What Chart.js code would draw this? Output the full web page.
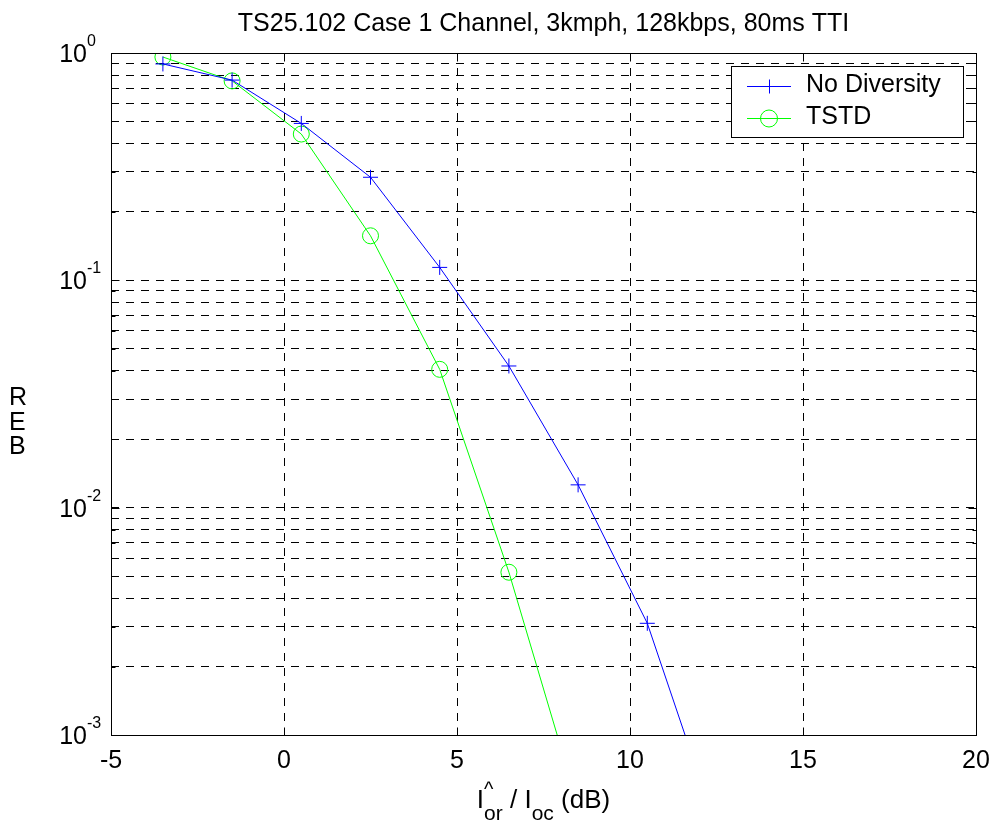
<!DOCTYPE html>
<html>
<head>
<meta charset="utf-8">
<script src="https://cdn.jsdelivr.net/npm/chart.js@4.4.1/dist/chart.umd.min.js"></script>
<style>
  html, body { margin: 0; padding: 0; background: #fff; }
  #wrap { width: 996px; height: 825px; }
</style>
</head>
<body>
<div id="wrap"><canvas id="c" width="996" height="825"></canvas></div>
<script>
// ---- data ----
const chartTitle = 'TS25.102 Case 1 Channel, 3kmph, 128kbps, 80ms TTI';
const seriesNames = ['No Diversity', 'TSTD'];
const noDivX = [-3.5, -1.5, 0.5, 2.5, 4.5, 6.5, 8.5, 10.5, 12.5];
const noDivY = [0.895, 0.76, 0.49, 0.284, 0.114, 0.042, 0.0126, 0.0031, 0.00039];
const tstdX  = [-3.5, -1.5, 0.5, 2.5, 4.5, 6.5, 8.5];
const tstdY  = [0.96, 0.754, 0.44, 0.157, 0.0406, 0.0052, 0.00049];
const xTickValues = [-5, 0, 5, 10, 15, 20];
const xTickLabels = ['-5', '0', '5', '10', '15', '20'];
const yDecadeExps = [0, -1, -2, -3];
const yMantissas = [1, 2, 3, 4, 5, 6, 7, 8, 9];
const yLabelLetters = ['R', 'E', 'B'];

const FONT = "'Liberation Sans', Arial, Helvetica, sans-serif";

const yGridValues = [];
yDecadeExps.forEach(e => {
  yMantissas.forEach(m => {
    const v = m * Math.pow(10, e);
    if (v <= 1 + 1e-12 && v >= 1e-3 - 1e-15) yGridValues.push(v);
  });
});

const toPts = (xs, ys) => xs.map((x, i) => ({ x: x, y: ys[i] }));

const decor = {
  id: 'matlabDecor',
  afterDraw(chart) {
    const { ctx, chartArea: a, scales } = chart;
    const xs = scales.x, ys = scales.y;
    ctx.save();
    ctx.setLineDash([]);
    ctx.strokeStyle = '#000';
    ctx.fillStyle = '#000';
    ctx.lineWidth = 1;
    const L = Math.round(a.left) + 0.5, R = Math.round(a.right) + 0.5;
    const T = Math.round(a.top) + 0.5, B = Math.round(a.bottom) + 0.5;
    // frame
    ctx.strokeRect(L, T, R - L, B - T);
    // inward ticks
    ctx.beginPath();
    xTickValues.forEach(v => {
      const px = Math.round(xs.getPixelForValue(v)) + 0.5;
      ctx.moveTo(px, T); ctx.lineTo(px, T + 8);
      ctx.moveTo(px, B); ctx.lineTo(px, B - 8);
    });
    yGridValues.forEach(v => {
      const py = Math.round(ys.getPixelForValue(v)) + 0.5;
      const major = Math.abs(Math.log10(v) - Math.round(Math.log10(v))) < 1e-9;
      const len = major ? 8 : 4;
      ctx.moveTo(L, py); ctx.lineTo(L + len, py);
      ctx.moveTo(R, py); ctx.lineTo(R - len, py);
    });
    ctx.stroke();

    // x tick labels
    ctx.font = '25px ' + FONT;
    ctx.textAlign = 'center';
    ctx.textBaseline = 'alphabetic';
    xTickValues.forEach((v, i) => {
      ctx.fillText(xTickLabels[i], xs.getPixelForValue(v), 768);
    });

    // y tick labels 10^e
    yDecadeExps.forEach(e => {
      const py = ys.getPixelForValue(Math.pow(10, e));
      ctx.font = '25px ' + FONT;
      ctx.textAlign = 'right';
      ctx.fillText('10', 87, py + 9);
      ctx.font = '16px ' + FONT;
      ctx.textAlign = 'left';
      ctx.fillText(String(e), 87, py - 7);
    });

    // title
    ctx.font = '25px ' + FONT;
    ctx.textAlign = 'center';
    ctx.fillText(chartTitle, (a.left + a.right) / 2, 31);

    // y label (stacked letters)
    ctx.textAlign = 'left';
    ctx.font = '25px ' + FONT;
    const yl = [405, 430, 454];
    yLabelLetters.forEach((ch, i) => ctx.fillText(ch, 9, yl[i]));

    // x label: I^{^}_{or} / I_{oc} (dB)
    const mainF = '26px ' + FONT, subF = '21px ' + FONT, supF = '20px ' + FONT;
    const base = 808, subBase = 820, supBase = 796;
    ctx.font = mainF; const wI = ctx.measureText('I').width;
    const wMid = ctx.measureText(' / I').width;
    const wEnd = ctx.measureText(' (dB)').width;
    ctx.font = subF; const wOr = ctx.measureText('or').width;
    const wOc = ctx.measureText('oc').width;
    ctx.font = supF; const wHat = ctx.measureText('^').width;
    const total = wI + Math.max(wOr, wHat) + wMid + wOc + wEnd;
    let cx = (a.left + a.right) / 2 - total / 2;
    ctx.textAlign = 'left';
    ctx.font = mainF; ctx.fillText('I', cx, base); cx += wI;
    ctx.font = supF; ctx.fillText('^', cx, supBase);
    ctx.font = subF; ctx.fillText('or', cx, subBase); cx += Math.max(wOr, wHat);
    ctx.font = mainF; ctx.fillText(' / I', cx, base); cx += wMid;
    ctx.font = subF; ctx.fillText('oc', cx, subBase); cx += wOc;
    ctx.font = mainF; ctx.fillText(' (dB)', cx, base);

    // legend
    const lx0 = 731.5, ly0 = 66.5, lx1 = 963.5, ly1 = 137.5;
    ctx.fillStyle = '#fff';
    ctx.fillRect(lx0, ly0, lx1 - lx0, ly1 - ly0);
    ctx.strokeStyle = '#000';
    ctx.strokeRect(lx0, ly0, lx1 - lx0, ly1 - ly0);
    const ds = chart.data.datasets;
    const rows = [86, 118];
    ds.forEach((d, i) => {
      const yy = rows[i] + 0.5;
      ctx.strokeStyle = d.borderColor;
      ctx.lineWidth = 1;
      ctx.beginPath();
      ctx.moveTo(747, yy); ctx.lineTo(791, yy);
      ctx.stroke();
      ctx.beginPath();
      if (d.pointStyle === 'cross') {
        ctx.moveTo(769.5, yy - 7); ctx.lineTo(769.5, yy + 7);
        ctx.moveTo(762, yy); ctx.lineTo(777, yy);
      } else {
        ctx.arc(769, yy, 8.5, 0, Math.PI * 2);
      }
      ctx.stroke();
      ctx.fillStyle = '#000';
      ctx.font = '25px ' + FONT;
      ctx.textAlign = 'left';
      ctx.fillText(seriesNames[i], 806, rows[i] + 6 + (i === 0 ? 0 : 0) + 0);
    });
    ctx.restore();
  }
};

new Chart(document.getElementById('c'), {
  type: 'line',
  data: {
    datasets: [
      {
        label: seriesNames[0],
        data: toPts(noDivX, noDivY),
        borderColor: '#0000ff',
        backgroundColor: 'transparent',
        borderWidth: 1,
        pointStyle: 'cross',
        pointRadius: 7.5,
        pointBorderWidth: 1,
        pointBorderColor: '#0000ff',
        pointBackgroundColor: 'transparent',
        tension: 0,
        fill: false
      },
      {
        label: seriesNames[1],
        data: toPts(tstdX, tstdY),
        borderColor: '#00ff00',
        backgroundColor: 'transparent',
        borderWidth: 1,
        pointStyle: 'circle',
        pointRadius: 8,
        pointBorderWidth: 1,
        pointBorderColor: '#00ff00',
        pointBackgroundColor: 'transparent',
        tension: 0,
        fill: false
      }
    ]
  },
  options: {
    responsive: false,
    devicePixelRatio: 1,
    animation: false,
    events: [],
    layout: { padding: { left: 0, top: 53, right: 20, bottom: 0 } },
    plugins: { legend: { display: false }, tooltip: { enabled: false }, title: { display: false } },
    scales: {
      x: {
        type: 'linear',
        min: -5, max: 20,
        afterBuildTicks: s => { s.ticks = xTickValues.map(v => ({ value: v })); },
        afterFit: s => { s.height = 90; },
        ticks: { display: false },
        grid: { color: '#000', lineWidth: 1, drawTicks: false },
        border: { display: false, dash: [8, 7] }
      },
      y: {
        type: 'logarithmic',
        min: 1e-3, max: 1,
        afterBuildTicks: s => { s.ticks = yGridValues.map(v => ({ value: v })); },
        afterFit: s => { s.width = 111; },
        ticks: { display: false },
        grid: { color: '#000', lineWidth: 1, drawTicks: false },
        border: { display: false, dash: [8, 7] }
      }
    }
  },
  plugins: [decor]
});
</script>
</body>
</html>
